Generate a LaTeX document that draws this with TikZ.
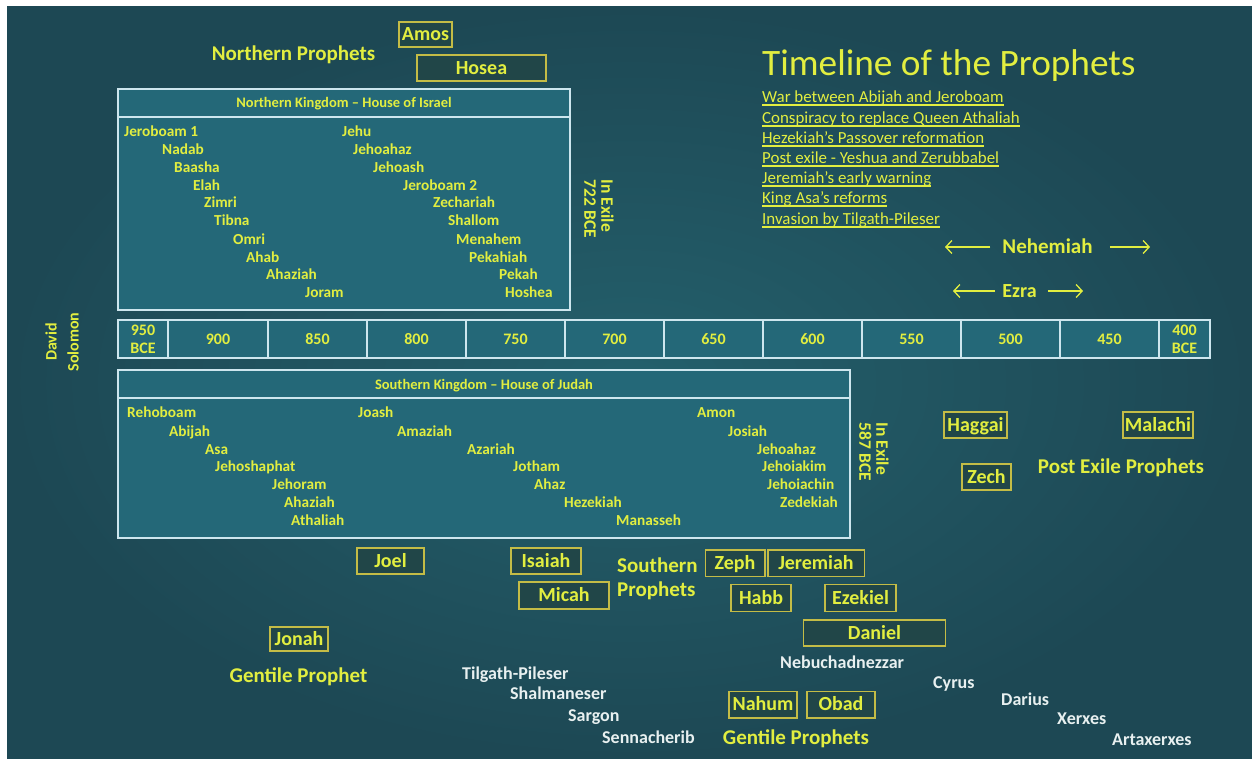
\documentclass[tikz,border=0pt]{standalone}
\usepackage{fontspec}
\setmainfont{Carlito}
\usetikzlibrary{arrows.meta}
\definecolor{bgdark}{RGB}{29,72,84}
\definecolor{bglight}{RGB}{36,96,108}
\definecolor{boxfill}{RGB}{36,104,120}
\definecolor{boxline}{RGB}{205,230,238}
\definecolor{ytext}{RGB}{226,238,64}
\definecolor{pline}{RGB}{196,188,70}
\definecolor{pfill}{RGB}{33,70,72}
\definecolor{wtext}{RGB}{232,240,240}
\begin{document}
\begin{tikzpicture}[x=1pt,y=-1pt,
  kbox/.style={draw=boxline,fill=boxfill,line width=1.6pt,inner sep=0pt},
  kline/.style={draw=boxline,line width=1.6pt},
  hdr/.style={inner sep=0pt,text=ytext,font=\fontsize{14.5}{17}\selectfont\bfseries,text height=11.6pt,text depth=2.3pt},
  kname/.style={anchor=west,inner sep=0pt,text=ytext,font=\fontsize{15.3}{18}\selectfont\bfseries,text height=12.2pt,text depth=2.4pt},
  wname/.style={anchor=west,inner sep=0pt,text=wtext,font=\fontsize{18}{21}\selectfont\bfseries,text height=14.4pt,text depth=2.9pt},
  tnum/.style={inner sep=0pt,text=ytext,font=\fontsize{16}{18}\selectfont\bfseries,align=center},
  lbl/.style={inner sep=0pt,text=ytext,font=\fontsize{21}{24}\selectfont\bfseries,text height=16.8pt,text depth=3.4pt},
  pbox/.style={draw=pline,fill=pfill,line width=1.5pt,inner sep=0pt,text=ytext,font=\fontsize{20}{24}\selectfont\bfseries,text height=16pt,text depth=3.2pt},
  link/.style={anchor=west,inner sep=0pt,text=ytext,font=\fontsize{16.9}{20}\selectfont,text height=13.5pt,text depth=2.7pt},
  rot/.style={inner sep=0pt,text=ytext,font=\fontsize{17.5}{17}\selectfont\bfseries},
  arr/.style={draw=ytext,line width=1.3pt,-{Straight Barb[length=6pt,width=13pt]}}
]
\useasboundingbox (0,0) rectangle (1252,759);
\fill[white] (0,0) rectangle (1252,759);
\shade[inner color=bglight,outer color=bgdark] (7,7) rectangle (1252,759);

% Title and links
\node[anchor=west,inner sep=0pt,text=ytext,font=\fontsize{37.3}{40}\selectfont,text height=29.8pt,text depth=6pt] (title) at (762,64) {Timeline of the Prophets};
\foreach \t/\y [count=\i] in {War between Abijah and Jeroboam/97,Conspiracy to replace Queen Athaliah/118,Hezekiah’s Passover reformation/138,Post exile - Yeshua and Zerubbabel/158,Jeremiah’s early warning/178,King Asa’s reforms/198,Invasion by Tilgath-Pileser/219}{
  \node[link] (l\i) at (762,\y) {\t};
  \draw[ytext,line width=1.1pt] ([yshift=-2.6pt]l\i.base west) -- ([yshift=-2.6pt]l\i.base east);
}

% Northern prophets
\node[lbl] (np) at (293.5,54) {Northern Prophets};
\node[pbox,minimum width=53pt,minimum height=25pt] (amos) at (425.5,34.5) {Amos};
\node[pbox,minimum width=129pt,minimum height=26pt] (hosea) at (481.5,68) {Hosea};

% Northern kingdom
\node[kbox,minimum width=452pt,minimum height=221pt] (nk) at (344,199.5) {};
\coordinate (nkl) at (118,117);
\coordinate (nkr) at (570,117);
\draw[kline] (nkl) -- (nkr);
\node[hdr] (nkh) at (344,103) {Northern Kingdom – House of Israel};
\foreach \n/\x/\y [count=\i] in {Jeroboam 1/124/132,Nadab/162/150,Baasha/174/168,Elah/193/186,Zimri/204/203,Tibna/214/221,Omri/233/240,Ahab/246/258,Ahaziah/266/275,Joram/305/293,Jehu/342/132,Jehoahaz/353/150,Jehoash/373/168,Jeroboam 2/403/186,Zechariah/433/203,Shallom/448/221,Menahem/456/240,Pekahiah/469/258,Pekah/499/275,Hoshea/505/293}{
  \node[kname] (n\i) at (\x,\y) {\n};
}
\node[rot,rotate=-90,align=left] (ex1) at (599,209) {In Exile\\722 BCE};

% David Solomon
\node[rot,rotate=90,align=center,font=\fontsize{16}{22}\selectfont\bfseries] (ds) at (62,342) {David\\Solomon};

% Timeline
\node[kbox,minimum width=1092pt,minimum height=38pt] (tl) at (664,339) {};
\foreach \x in {168,268,367,466,565,664,763,862,961,1060,1159}{
  \draw[kline] (\x,320) -- (\x,358);
}
\node[tnum] (t950) at (143,339) {950\\BCE};
\foreach \v/\x in {900/218,850/317.5,800/416.5,750/515.5,700/614.5,650/713.5,600/812.5,550/911.5,500/1010.5,450/1109.5}{
  \node[tnum] (t\v) at (\x,339) {\v};
}
\node[tnum] (t400) at (1184.5,339) {400\\BCE};

% Southern kingdom
\node[kbox,minimum width=732pt,minimum height=168pt] (sk) at (484,454) {};
\coordinate (skl) at (118,398);
\coordinate (skr) at (850,398);
\draw[kline] (skl) -- (skr);
\node[hdr] (skh) at (484,385) {Southern Kingdom – House of Judah};
\foreach \n/\x/\y [count=\i] in {Rehoboam/127/413,Abijah/169/432,Asa/205/450,Jehoshaphat/215/467,Jehoram/272/485,Ahaziah/284/503,Athaliah/291/521,Joash/358/413,Amaziah/397/432,Azariah/467/450,Jotham/513/467,Ahaz/534/485,Hezekiah/564/503,Manasseh/616/521,Amon/697/413,Josiah/728/432,Jehoahaz/757/450,Jehoiakim/762/467,Jehoiachin/767/485,Zedekiah/780/503}{
  \node[kname] (s\i) at (\x,\y) {\n};
}
\node[rot,rotate=-90,align=left] (ex2) at (874,452) {In Exile\\587 BCE};

% Nehemiah / Ezra
\node[lbl] (neh) at (1047.5,247) {Nehemiah};
\coordinate (nehL) at (945,247);
\coordinate (nehR) at (1150,247);
\draw[arr] ([xshift=-12pt]neh.west) -- (nehL);
\draw[arr] ([xshift=17pt]neh.east) -- (nehR);
\node[lbl,font=\fontsize{20}{24}\selectfont\bfseries] (ezra) at (1019.5,291) {Ezra};
\coordinate (ezL) at (953,291);
\coordinate (ezR) at (1083,291);
\draw[arr] ([xshift=-7pt]ezra.west) -- (ezL);
\draw[arr] ([xshift=11pt]ezra.east) -- (ezR);

% Post exile prophets
\node[pbox,minimum width=63pt,minimum height=26pt] (haggai) at (975.5,425) {Haggai};
\node[pbox,minimum width=70pt,minimum height=26pt] (malachi) at (1158,425) {Malachi};
\node[pbox,minimum width=49pt,minimum height=26pt] (zech) at (986.5,477) {Zech};
\node[lbl] (pep) at (1121,467) {Post Exile Prophets};

% Southern prophets
\node[pbox,minimum width=67pt,minimum height=26pt] (joel) at (390.5,561) {Joel};
\node[pbox,minimum width=70pt,minimum height=26pt] (isaiah) at (546,561) {Isaiah};
\node[pbox,minimum width=90pt,minimum height=27pt] (micah) at (564,595.5) {Micah};
\node[lbl,anchor=west] (sp1) at (617,566) {Southern};
\node[lbl,anchor=west] (sp2) at (617,590) {Prophets};
\node[pbox,minimum width=59.5pt,minimum height=26.5pt] (zeph) at (735,563) {Zeph};
\node[pbox,minimum width=96.5pt,minimum height=26.5pt] (jer) at (816,563) {Jeremiah};
\node[pbox,minimum width=60pt,minimum height=27pt] (habb) at (761,598) {Habb};
\node[pbox,minimum width=71pt,minimum height=27pt] (ezek) at (860.5,598) {Ezekiel};
\node[pbox,minimum width=142pt,minimum height=26pt] (daniel) at (874.5,633) {Daniel};

% Gentile prophets
\node[pbox,minimum width=58pt,minimum height=24pt] (jonah) at (299,639) {Jonah};
\node[lbl] (gp1) at (298.5,676) {Gentile Prophet};
\node[pbox,minimum width=68pt,minimum height=26.5pt] (nahum) at (763,704.5) {Nahum};
\node[pbox,minimum width=68pt,minimum height=26.5pt] (obad) at (841,704.5) {Obad};
\node[lbl] (gp2) at (796,737.5) {Gentile Prophets};

% Foreign kings
\foreach \n/\x/\y [count=\i] in {Tilgath-Pileser/462/674,Shalmaneser/510/694,Sargon/568/716,Sennacherib/602/738,Nebuchadnezzar/780/663,Cyrus/933/683,Darius/1001/700,Xerxes/1057/719,Artaxerxes/1112/740}{
  \node[wname] (w\i) at (\x,\y) {\n};
}
\end{tikzpicture}
\end{document}
